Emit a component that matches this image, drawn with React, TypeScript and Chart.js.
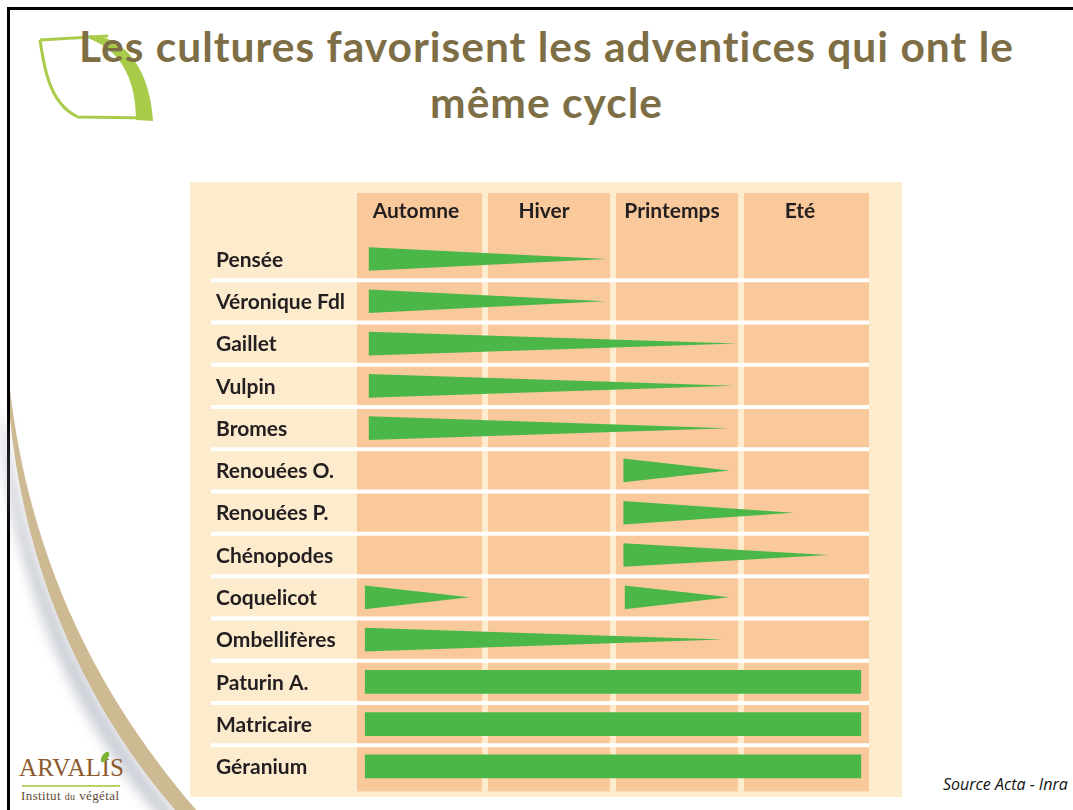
import React, { useEffect, useRef } from "react";
import { Chart, registerables } from "chart.js";

Chart.register(...registerables);

// ---- data ----
const seasons = ["Automne", "Hiver", "Printemps", "Eté"];
const weeds = [
  "Pensée",
  "Véronique Fdl",
  "Gaillet",
  "Vulpin",
  "Bromes",
  "Renouées O.",
  "Renouées P.",
  "Chénopodes",
  "Coquelicot",
  "Ombellifères",
  "Paturin A.",
  "Matricaire",
  "Géranium",
];
// one entry per green mark: row index, start / end (in seasons, 0 = start of autumn), shape
const periodRow = [0, 1, 2, 3, 4, 5, 6, 7, 8, 8, 9, 10, 11, 12];
const periodStart = [0.09, 0.09, 0.09, 0.09, 0.09, 2.08, 2.08, 2.08, 0.06, 2.09, 0.06, 0.06, 0.06, 0.06];
const periodEnd = [1.95, 1.94, 2.97, 2.94, 2.9, 2.91, 3.41, 3.68, 0.88, 2.91, 2.86, 3.94, 3.94, 3.94];
const periodShape = [
  "wedge", "wedge", "wedge", "wedge", "wedge", "wedge", "wedge",
  "wedge", "wedge", "wedge", "wedge", "bar", "bar", "bar",
];

// ---- styles ----
const GREEN = "#4BB749";
const PEACH = "#F9C99C";
const PANEL = "#FDEBCD";
const TEXT = "#231F20";
const FONT = "Lato, 'Open Sans', sans-serif";
const HALF = 0.28;

const cellsPlugin = {
  id: "cells",
  beforeDraw(chart: any) {
    const { ctx, chartArea, scales } = chart;
    const x = scales.x;
    const y = scales.y;
    const gap = 6;
    ctx.save();
    ctx.fillStyle = PEACH;
    for (let i = 0; i < seasons.length; i++) {
      const l = x.getPixelForValue(i) + (i > 0 ? gap / 2 : 0);
      const r = x.getPixelForValue(i + 1) - (i < seasons.length - 1 ? gap / 2 : 0);
      ctx.fillRect(l, x.top, r - l, chartArea.bottom - x.top);
    }
    ctx.strokeStyle = "#FFFFFF";
    ctx.lineWidth = 4;
    for (let i = 0; i < weeds.length - 1; i++) {
      const py = y.getPixelForValue(i + 0.5);
      ctx.beginPath();
      ctx.moveTo(y.left - 5, py);
      ctx.lineTo(chartArea.right, py);
      ctx.stroke();
    }
    ctx.restore();
  },
};

function SeasonChart() {
  const ref = useRef<HTMLCanvasElement | null>(null);
  useEffect(() => {
    if (!ref.current) return;
    const datasets: any[] = [];
    periodRow.forEach((row, k) => {
      const full = periodShape[k] === "bar";
      datasets.push({
        label: weeds[row] + " (haut)",
        data: [
          { x: periodStart[k], y: row - HALF },
          { x: periodEnd[k], y: full ? row - HALF : row },
        ],
        borderWidth: 0,
        pointRadius: 0,
        borderColor: GREEN,
        fill: false,
      });
      datasets.push({
        label: weeds[row],
        data: [
          { x: periodStart[k], y: row + HALF },
          { x: periodEnd[k], y: full ? row + HALF : row },
        ],
        borderWidth: 0,
        pointRadius: 0,
        borderColor: GREEN,
        backgroundColor: GREEN,
        fill: "-1",
      });
    });
    const chart = new Chart(ref.current, {
      type: "line",
      data: { datasets },
      plugins: [cellsPlugin],
      options: {
        animation: false,
        responsive: false,
        maintainAspectRatio: false,
        layout: { padding: { left: 26, right: 33, top: 11, bottom: 15 } },
        plugins: {
          legend: { display: false },
          tooltip: { enabled: false },
        },
        scales: {
          x: {
            type: "linear",
            position: "top",
            min: 0,
            max: 4,
            grid: { display: false, drawTicks: false },
            border: { display: false },
            afterBuildTicks: (s: any) => {
              s.ticks = seasons.map((_, i) => ({ value: i + 0.5 }));
            },
            afterFit: (s: any) => {
              s.height = 44;
            },
            ticks: {
              autoSkip: false,
              maxRotation: 0,
              padding: 13,
              labelOffset: -5,
              color: TEXT,
              font: { family: FONT, size: 21, weight: "bold" },
              callback: (v: any) => seasons[Math.floor(Number(v))],
            },
          },
          y: {
            type: "linear",
            reverse: true,
            min: -0.52,
            max: 12.59,
            grid: { display: false, drawTicks: false },
            border: { display: false },
            afterBuildTicks: (s: any) => {
              s.ticks = weeds.map((_, i) => ({ value: i }));
            },
            afterFit: (s: any) => {
              s.width = 141;
            },
            ticks: {
              autoSkip: false,
              crossAlign: "far",
              labelOffset: 1,
              color: TEXT,
              font: { family: FONT, size: 21, weight: "bold" },
              callback: (v: any) => weeds[Number(v)],
            },
          },
        },
      } as any,
    });
    return () => chart.destroy();
  }, []);
  return <canvas ref={ref} width={712} height={625} style={{ position: "absolute", left: 190, top: 182 }} />;
}

export default function App() {
  return (
    <div
      style={{
        position: "absolute",
        left: 0,
        top: 0,
        width: 1073,
        height: 810,
        overflow: "hidden",
        background: "#FFFFFF",
      }}
    >
      {/* slide frame */}
      <div
        style={{
          position: "absolute",
          left: 7,
          top: 7,
          width: 1200,
          height: 1000,
          border: "3px solid #000",
          boxSizing: "border-box",
        }}
      />
      {/* decorative swoosh */}
      <svg width={260} height={810} style={{ position: "absolute", left: 0, top: 0 }}>
        <defs>
          <filter id="blur" x="-50%" y="-50%" width="200%" height="200%">
            <feGaussianBlur stdDeviation="6" />
          </filter>
        </defs>
        <path
          d="M10 400 C 30 560, 90 700, 190 820 L 170 820 C 80 720, 22 580, 10 440 Z"
          fill="#8E95A5"
          opacity={0.45}
          filter="url(#blur)"
          transform="translate(-8,0)"
        />
        <path d="M10 390 C 30 560, 98 700, 205 820 L 184 820 C 85 710, 25 570, 10 418 Z" fill="#CDBA93" />
      </svg>
      {/* leaf logo */}
      <svg width={200} height={140} style={{ position: "absolute", left: 0, top: 0 }}>
        <path d="M40 40 L108 36" stroke="#A8CC4A" strokeWidth={3} fill="none" />
        <path d="M40 40 C 45 75, 52 105, 78 117 L 150 118" stroke="#A8CC4A" strokeWidth={3} fill="none" />
        <path d="M90 35 C 128 38, 150 72, 153 121 L 136 120 C 136 84, 124 52, 90 39 Z" fill="#A8CC4A" />
      </svg>
      {/* title */}
      <div
        style={{
          position: "absolute",
          left: 0,
          top: 18,
          width: 1093,
          textAlign: "center",
          fontFamily: FONT,
          fontWeight: 700,
          fontSize: 42.5,
          letterSpacing: 1,
          lineHeight: "56px",
          color: "#7D6E45",
        }}
      >
        Les cultures favorisent les adventices qui ont le
        <br />
        même cycle
      </div>
      {/* chart panel */}
      <div style={{ position: "absolute", left: 190, top: 182, width: 712, height: 615, background: PANEL }} />
      <SeasonChart />
      {/* ARVALIS logo */}
      <div
        style={{
          position: "absolute",
          left: 19,
          top: 754,
          fontFamily: "'Liberation Serif', serif",
          fontSize: 25,
          color: "#8C5A2C",
          letterSpacing: 0.3,
          lineHeight: "28px",
        }}
      >
        ARVALIS
      </div>
      <svg width={140} height={40} style={{ position: "absolute", left: 0, top: 750 }}>
        <ellipse cx={105} cy={7} rx={3} ry={6} fill="#7DB233" transform="rotate(35 105 7)" />
        <rect x={22} y={35} width={98} height={2} fill="#B9D46A" />
      </svg>
      <div
        style={{
          position: "absolute",
          left: 21,
          top: 789,
          fontFamily: "'Liberation Serif', serif",
          fontSize: 13,
          color: "#5E4A34",
          lineHeight: "14px",
          letterSpacing: 0.4,
          whiteSpace: "nowrap",
        }}
      >
        Institut <span style={{ fontSize: 10 }}>du</span> végétal
      </div>
      {/* source */}
      <div
        style={{
          position: "absolute",
          left: 943,
          top: 773,
          fontFamily: "'Open Sans', sans-serif",
          fontStyle: "italic",
          fontSize: 16,
          color: "#111",
          whiteSpace: "nowrap",
        }}
      >
        Source Acta - Inra
      </div>
    </div>
  );
}
